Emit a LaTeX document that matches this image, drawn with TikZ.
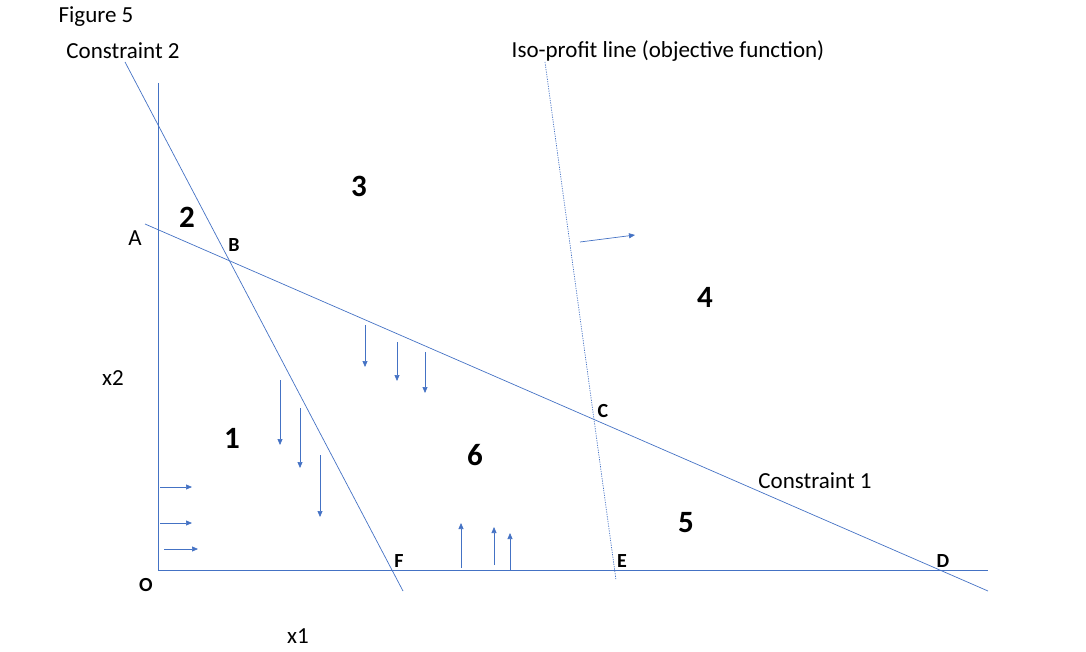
\documentclass[tikz,border=0pt]{standalone}
\usepackage{fontspec}
\setmainfont{Carlito}
\usetikzlibrary{arrows.meta}
\definecolor{ln}{RGB}{68,114,196}
\begin{document}
\begin{tikzpicture}[x=1pt,y=-1pt,
  ln/.style={draw=ln,line width=0.7pt},
  arr/.style={ln,-{Triangle[length=6pt,width=5pt]}},
  lab/.style={font=\fontsize{23}{27}\selectfont},
  big/.style={font=\fontsize{31}{36}\selectfont\bfseries},
  pt/.style={font=\fontsize{20}{24}\selectfont\bfseries}]
\useasboundingbox (0,0) rectangle (1086,652);
\coordinate (Y1) at (158,83); \coordinate (O) at (158,570);
\coordinate (X1) at (988,570);
\coordinate (C2a) at (125,62); \coordinate (C2b) at (403,591);
\coordinate (C1a) at (145,224); \coordinate (C1b) at (988,591);
\coordinate (Ia) at (545,62); \coordinate (Ib) at (616,580);
\draw[ln] (Y1) -- (O) -- (X1);
\draw[ln] (C2a) -- (C2b);
\draw[ln] (C1a) -- (C1b);
\draw[ln,dash pattern=on 1.2pt off 1.2pt] (Ia) -- (Ib);
\foreach \a/\b/\c/\d in {160/487/192/487,160/523/192/523,164/549/198/549,
  280/380/280/445,300/408/300/468,320/455/320/517,
  365/325/365/367,397/342/397/381,425/352/425/393,
  461/568/461/523,494/565/494/527,510/570/510/533,580/242/635/235}
  {\coordinate (s) at (\a,\b); \coordinate (e) at (\c,\d); \draw[arr] (s) -- (e);}
\node[lab] (fig) at (96,17) {Figure 5};
\node[lab] (c2) at (123,51) {Constraint 2};
\node[lab] (iso) at (668,51) {Iso-profit line (objective function)};
\node[lab] (c1) at (815,481) {Constraint 1};
\node[lab] (x2) at (113,378) {x2};
\node[lab] (x1) at (298,636) {x1};
\node[lab] (A) at (135,238) {A};
\node[pt] (B) at (234,245) {B};
\node[pt] (C) at (603,411) {C};
\node[pt] (D) at (943,561) {D};
\node[pt] (E) at (622,561) {E};
\node[pt] (F) at (399,561) {F};
\node[pt] (Ol) at (146,585) {O};
\node[big] (n1) at (232,438) {1};
\node[big] (n2) at (187,217) {2};
\node[big] (n3) at (359,186) {3};
\node[big] (n4) at (705,297) {4};
\node[big] (n5) at (686,523) {5};
\node[big] (n6) at (475,455) {6};
\end{tikzpicture}
\end{document}
